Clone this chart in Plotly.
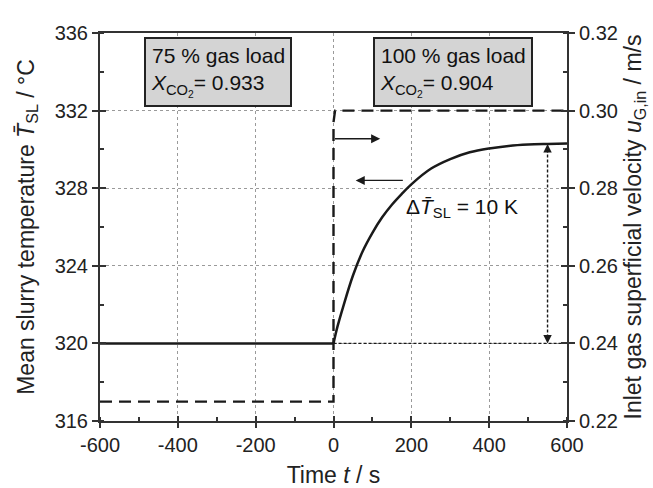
import plotly.graph_objects as go

# ---------------- data ----------------
time_pre = [-600, 0]
temp_pre = [320.0, 320.0]

time_post = [0, 10, 25, 50, 75, 100, 125, 150, 175, 200, 250, 300, 350, 400, 450, 500, 550, 600]
temp_post = [320.0, 320.85, 321.9, 323.5, 324.75, 325.7, 326.5, 327.15, 327.7, 328.2,
             329.0, 329.5, 329.85, 330.05, 330.18, 330.25, 330.28, 330.3]

gas_time = [-600, 0, 0, 4, 600]
gas_u = [0.225, 0.225, 0.297, 0.300, 0.300]

x_ticks = [-600, -400, -200, 0, 200, 400, 600]
y_left_ticks = [316, 320, 324, 328, 332, 336]
y_right_ticks = [0.22, 0.24, 0.26, 0.28, 0.30, 0.32]

box1_lines = ["75 % gas load", "<i>X</i><sub>CO<sub>2</sub></sub>= 0.933"]
box2_lines = ["100 % gas load", "<i>X</i><sub>CO<sub>2</sub></sub>= 0.904"]
delta_label = "Δ<i>T̄</i><sub>SL</sub> = 10 K"
delta_pos_t = 550

# ---------------- style ----------------
INK = "#1a1a1a"
AX = "#333333"
GRID = "#9a9a9a"
FONT = "Liberation Sans, Arial, sans-serif"

T0 = temp_post[0]
T_end_at_pos = temp_post[time_post.index(delta_pos_t)]

fig = go.Figure()

# solid temperature line: before and after the step
fig.add_trace(go.Scatter(x=time_pre, y=temp_pre, mode="lines",
                         line=dict(color=INK, width=2.5),
                         showlegend=False, hoverinfo="skip"))
fig.add_trace(go.Scatter(x=time_post, y=temp_post, mode="lines",
                         line=dict(color=INK, width=2.5, shape="spline", smoothing=1.0),
                         showlegend=False, hoverinfo="skip"))
# baseline dotted line (0..600 at initial temperature)
fig.add_trace(go.Scatter(x=[time_post[0], time_post[-1]], y=[T0, T0], mode="lines",
                         line=dict(color=INK, width=1.4, dash="3px,2px"),
                         showlegend=False, hoverinfo="skip"))
# dotted vertical delta line
fig.add_trace(go.Scatter(x=[delta_pos_t, delta_pos_t], y=[T0 + 0.3, T_end_at_pos - 0.3], mode="lines",
                         line=dict(color=INK, width=1.4, dash="3px,2px"),
                         showlegend=False, hoverinfo="skip"))
# gas velocity dashed line
fig.add_trace(go.Scatter(x=gas_time, y=gas_u, mode="lines", yaxis="y2",
                         line=dict(color=INK, width=2.4, dash="12px,7px"),
                         showlegend=False, hoverinfo="skip"))

# dummy traces for inside tick overlay axes
fig.add_trace(go.Scatter(x=[None], y=[None], xaxis="x2", yaxis="y", showlegend=False, hoverinfo="skip"))
fig.add_trace(go.Scatter(x=[None], y=[None], xaxis="x", yaxis="y3", showlegend=False, hoverinfo="skip"))
fig.add_trace(go.Scatter(x=[None], y=[None], xaxis="x", yaxis="y4", showlegend=False, hoverinfo="skip"))

tickfont = dict(family=FONT, size=20, color="#222")
titlefont = dict(family=FONT, size=23, color="#222")

fig.update_layout(
    width=653, height=488,
    margin=dict(l=100, r=86, t=33, b=67),
    plot_bgcolor="white", paper_bgcolor="white",
    font=dict(family=FONT, color="#222"),
    xaxis=dict(range=[-600, 600], tickvals=x_ticks, ticktext=[str(v) for v in x_ticks],
               ticks="outside", ticklen=5, tickwidth=2, tickcolor=AX, automargin=False,
               minor=dict(dtick=100, tick0=-600, ticks="inside", ticklen=4, tickwidth=1.5, tickcolor=AX, showgrid=False),
               showline=True, linecolor=AX, linewidth=2, mirror=True,
               showgrid=True, gridcolor=GRID, griddash="dot", gridwidth=1,
               zeroline=False, tickfont=tickfont,
               title=dict(text="Time <i>t</i> / s", font=titlefont, standoff=20)),
    xaxis2=dict(range=[-600, 600], overlaying="x", anchor="y", side="bottom", automargin=False,
                tickvals=x_ticks, showticklabels=False, ticks="inside", ticklen=5,
                tickwidth=2, tickcolor=AX, showgrid=False, showline=False, zeroline=False),
    yaxis=dict(range=[316, 336], tickvals=y_left_ticks, ticktext=[str(v) for v in y_left_ticks],
               ticks="outside", ticklen=6, tickwidth=2, tickcolor=AX, automargin=False,
               minor=dict(dtick=2, tick0=316, ticks="inside", ticklen=4, tickwidth=1.5, tickcolor=AX, showgrid=False),
               showline=True, linecolor=AX, linewidth=2,
               showgrid=True, gridcolor=GRID, griddash="dot", gridwidth=1,
               zeroline=False, tickfont=tickfont,
               title=dict(text="Mean slurry temperature <i>T̄</i><sub>SL</sub> / °C", font=titlefont, standoff=14)),
    yaxis2=dict(range=[0.22, 0.32], overlaying="y", side="right", anchor="x", automargin=False,
                tickvals=y_right_ticks, ticktext=[f"{v:.2f}" for v in y_right_ticks],
                ticks="outside", ticklen=6, tickwidth=2, tickcolor=AX,
                minor=dict(dtick=0.01, tick0=0.22, ticks="inside", ticklen=4, tickwidth=1.5, tickcolor=AX, showgrid=False),
                showline=True, linecolor=AX, linewidth=2, showgrid=False, zeroline=False,
                tickfont=tickfont,
                title=dict(text="Inlet gas superficial velocity <i>u</i><sub>G,in</sub> / m/s", font=titlefont, standoff=8)),
    yaxis3=dict(range=[316, 336], overlaying="y", side="left", anchor="x", automargin=False,
                tickvals=y_left_ticks, showticklabels=False, ticks="inside", ticklen=6,
                tickwidth=2, tickcolor=AX, showgrid=False, showline=False, zeroline=False),
    yaxis4=dict(range=[0.22, 0.32], overlaying="y", side="right", anchor="x", automargin=False,
                tickvals=y_right_ticks, showticklabels=False, ticks="inside", ticklen=6,
                tickwidth=2, tickcolor=AX, showgrid=False, showline=False, zeroline=False),
)

boxfont = dict(family=FONT, size=21, color="#111")
fig.add_annotation(x=0.094, y=0.99, xref="paper", yref="paper", xanchor="left", yanchor="top",
                   text="<br>".join(box1_lines), align="left", showarrow=False,
                   bgcolor="#d4d4d4", bordercolor="#222", borderwidth=2, borderpad=5, font=boxfont)
fig.add_annotation(x=0.585, y=0.99, xref="paper", yref="paper", xanchor="left", yanchor="top",
                   text="<br>".join(box2_lines), align="left", showarrow=False,
                   bgcolor="#d4d4d4", bordercolor="#222", borderwidth=2, borderpad=5, font=boxfont)

# direction arrows
fig.add_annotation(x=120, y=330.55, ax=0, ay=330.55, xref="x", yref="y", axref="x", ayref="y",
                   text="", showarrow=True, arrowhead=2, arrowsize=1.4, arrowwidth=1.3, arrowcolor=INK, standoff=0)
fig.add_annotation(x=57, y=328.4, ax=182, ay=328.4, xref="x", yref="y", axref="x", ayref="y",
                   text="", showarrow=True, arrowhead=2, arrowsize=1.4, arrowwidth=1.3, arrowcolor=INK, standoff=0)
# delta arrowheads
fig.add_annotation(x=delta_pos_t, y=T_end_at_pos, ax=delta_pos_t, ay=T_end_at_pos - 0.5,
                   xref="x", yref="y", axref="x", ayref="y",
                   text="", showarrow=True, arrowhead=2, arrowsize=1.3, arrowwidth=1.3, arrowcolor=INK, standoff=0)
fig.add_annotation(x=delta_pos_t, y=T0, ax=delta_pos_t, ay=T0 + 0.5,
                   xref="x", yref="y", axref="x", ayref="y",
                   text="", showarrow=True, arrowhead=2, arrowsize=1.3, arrowwidth=1.3, arrowcolor=INK, standoff=0)
fig.add_annotation(x=180, y=327.0, xref="x", yref="y", xanchor="left", yanchor="middle",
                   text=delta_label, showarrow=False, font=dict(family=FONT, size=21, color="#111"))

fig.write_html("out.html")
